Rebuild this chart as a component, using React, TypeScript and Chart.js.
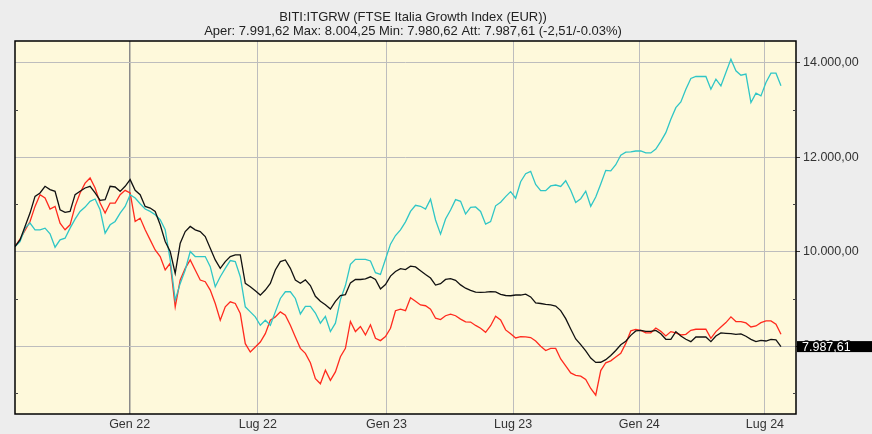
import { useEffect, useRef } from "react";
import { Chart, registerables } from "chart.js";
Chart.register(...registerables);

const titleLine1 = "BITI:ITGRW (FTSE Italia Growth Index (EUR))";
const titleLine2 = "Aper: 7.991,62 Max: 8.004,25 Min: 7.980,62 Att: 7.987,61 (-2,51/-0.03%)";

// x positions in weeks from the first data point
const tickPositions = [22.9, 48.5, 74.2, 99.5, 124.7, 149.8];
const tickLabels = ["Gen 22", "Lug 22", "Gen 23", "Lug 23", "Gen 24", "Lug 24"];
const yMajor = [8000, 10000, 12000, 14000];
const yMinor = [7000, 9000, 11000, 13000];

// weekly closes
const itgrw = [10106,10248,10532,10815,11170,11241,11383,11312,11276,10886,
10830,10851,11205,11276,11347,11383,11241,11085,11099,11383,
11368,11276,11383,11524,11297,11205,10957,10922,10851,10567,
10213,10000,9539,10177,10425,10532,10461,10425,10319,10071,
9823,9646,9787,9894,9929,9929,9326,9256,9170,9078,
9185,9326,9610,9787,9823,9646,9397,9330,9400,9281,
9053,8947,8875,8783,8947,9068,9089,9338,9409,9409,
9424,9466,9409,9210,9303,9480,9580,9640,9620,9690,
9675,9595,9515,9440,9290,9320,9410,9425,9390,9295,
9225,9180,9140,9135,9140,9150,9145,9095,9070,9065,
9080,9080,9100,9040,8915,8900,8880,8870,8845,8750,
8580,8360,8150,8030,7897,7745,7653,7656,7710,7800,
7905,8025,8100,8225,8320,8330,8310,8310,8330,8260,
8142,8142,8305,8213,8142,8092,8191,8191,8191,8092,
8213,8277,8269,8262,8248,8255,8206,8142,8092,8120,
8106,8142,8128,7987.61];

const compareRed = [10106,10262,10447,10638,10957,11206,11135,10901,10957,10603,
10461,10567,10957,11241,11450,11560,11347,11028,10815,11028,
11028,11205,11297,11241,10638,10709,10461,10248,10035,9894,
9610,9752,8830,9397,9646,9823,9610,9397,9362,9185,
8901,8546,8830,8936,8901,8688,8050,7873,7979,8085,
8262,8546,8617,8723,8652,8440,8191,7950,7844,7644,
7310,7200,7488,7274,7452,7772,7950,8520,8306,8413,
8235,8449,8164,8114,8199,8377,8747,8782,8748,9022,
8948,8870,8853,8782,8588,8560,8641,8676,8641,8570,
8510,8507,8436,8376,8291,8430,8630,8552,8341,8260,
8171,8197,8195,8180,8105,7995,7905,7950,7950,7725,
7580,7430,7380,7360,7290,7100,6960,7480,7645,7685,
7765,7845,8055,8320,8350,8330,8280,8280,8380,8310,
8213,8305,8277,8234,8248,8333,8355,8355,8355,8163,
8305,8404,8496,8617,8518,8518,8489,8404,8425,8496,
8532,8532,8461,8248];

const compareCyan = [10106,10213,10496,10603,10461,10461,10496,10376,10092,10248,
10284,10496,10687,10851,10943,11064,11113,10886,10390,10567,
10638,10815,10957,11205,11135,11014,10901,10851,10780,10674,
10461,9823,8972,9326,9610,10000,9894,9894,9894,9681,
9256,9468,9646,9809,9787,9468,8830,8723,8617,8440,
8546,8440,8723,9007,9149,9149,9007,8680,8840,8840,
8698,8484,8626,8306,8484,8982,9281,9730,9836,9836,
9836,9801,9552,9516,9836,10157,10340,10460,10630,10850,
10980,10960,10900,11110,10670,10370,10690,10880,11100,11065,
10795,10935,10945,10850,10580,10635,10970,11045,11165,11270,
11130,11480,11650,11700,11420,11290,11290,11390,11410,11380,
11500,11300,11040,11120,11280,10960,11155,11430,11720,11710,
11840,12040,12105,12110,12130,12130,12090,12090,12170,12335,
12518,12802,13049,13170,13439,13666,13708,13708,13708,13439,
13652,13510,13793,14076,13828,13736,13758,13156,13354,13297,
13581,13779,13779,13510];

const FONT = "'Liberation Sans', Arial, sans-serif";

function fmt(v: number): string {
  const s = v.toFixed(2);
  const [int, dec] = s.split(".");
  return int.replace(/\B(?=(\d{3})+(?!\d))/g, ".") + "," + dec;
}

const toXY = (arr: number[]) => arr.map((v, i) => ({ x: i, y: v }));

const decorPlugin = {
  id: "decor",
  beforeDraw(chart: any) {
    const { ctx, chartArea: a, width, height } = chart;
    ctx.save();
    ctx.fillStyle = "#ededed";
    ctx.fillRect(0, 0, width, height);
    ctx.fillStyle = "#fef9db";
    ctx.fillRect(a.left, a.top, a.right - a.left, a.bottom - a.top);
    ctx.restore();
  },
  afterDraw(chart: any) {
    const { ctx, chartArea: a, width } = chart;
    const ys = chart.scales.y;
    ctx.save();
    // border
    ctx.strokeStyle = "#000";
    ctx.lineWidth = 1.5;
    ctx.strokeRect(a.left, a.top, a.right - a.left, a.bottom - a.top);
    // minor ticks
    ctx.lineWidth = 1;
    ctx.strokeStyle = "#444";
    for (const v of yMinor) {
      const y = Math.round(ys.getPixelForValue(v)) + 0.5;
      ctx.beginPath();
      ctx.moveTo(a.left, y);
      ctx.lineTo(a.left + 3, y);
      ctx.stroke();
      ctx.beginPath();
      ctx.moveTo(a.right - 3, y);
      ctx.lineTo(a.right, y);
      ctx.stroke();
    }
    // title
    ctx.fillStyle = "#222";
    ctx.font = `13px ${FONT}`;
    ctx.textAlign = "center";
    ctx.textBaseline = "middle";
    ctx.fillText(titleLine1, 413, 17);
    ctx.fillText(titleLine2, 413, 31);
    // last value box
    const last = itgrw[itgrw.length - 1];
    const yl = ys.getPixelForValue(last);
    ctx.fillStyle = "#000";
    ctx.fillRect(a.right + 1, yl - 5.5, width - a.right - 1, 11);
    ctx.fillStyle = "#fff";
    ctx.textAlign = "left";
    ctx.font = `12.5px ${FONT}`;
    ctx.fillText(fmt(last), a.right + 6, yl + 0.5);
    ctx.restore();
  },
};

export default function App() {
  const ref = useRef<HTMLCanvasElement>(null);
  useEffect(() => {
    document.body.style.margin = "0";
    const chart = new Chart(ref.current!, {
      type: "line",
      data: {
        datasets: [
          { label: "ITGRW", data: toXY(itgrw), borderColor: "#111111", borderWidth: 1.3, pointRadius: 0, tension: 0 },
          { label: "Confronto 1", data: toXY(compareCyan), borderColor: "#2fc6c6", borderWidth: 1.3, pointRadius: 0, tension: 0 },
          { label: "Confronto 2", data: toXY(compareRed), borderColor: "#ff2a1e", borderWidth: 1.3, pointRadius: 0, tension: 0 },
        ],
      },
      plugins: [decorPlugin],
      options: {
        animation: false,
        responsive: false,
        maintainAspectRatio: false,
        layout: { padding: { left: 15, top: 41, right: 0, bottom: 0 } },
        plugins: { legend: { display: false }, tooltip: { enabled: false }, title: { display: false } },
        scales: {
          x: {
            type: "linear",
            min: 0,
            max: 156,
            position: "bottom",
            afterFit: (s: any) => { s.height = 20; },
            afterBuildTicks: (s: any) => { s.ticks = tickPositions.map((v) => ({ value: v })); },
            border: { display: false },
            grid: {
              color: (c: any) => (c.index === 0 ? "#8a8a8a" : "#bdbdbd"),
              lineWidth: (c: any) => (c.index === 0 ? 1.5 : 1),
              drawTicks: false,
            },
            ticks: {
              autoSkip: false,
              maxRotation: 0,
              padding: 3,
              color: "#333",
              font: { family: FONT, size: 12.5 },
              callback: (_v: any, i: number) => tickLabels[i],
            },
          },
          y: {
            type: "linear",
            position: "right",
            min: 6560,
            max: 14460,
            afterFit: (s: any) => { s.width = 76; },
            afterBuildTicks: (s: any) => { s.ticks = yMajor.map((v) => ({ value: v })); },
            border: { display: false },
            grid: { color: "#bdbdbd", lineWidth: 1, tickLength: 4, tickColor: "#333" },
            ticks: {
              padding: 3,
              color: "#333",
              font: { family: FONT, size: 12.5 },
              callback: (v: any) => fmt(Number(v)),
            },
          },
        },
      },
    });
    return () => chart.destroy();
  }, []);
  return <canvas ref={ref} width={872} height={434} style={{ display: "block" }} />;
}
